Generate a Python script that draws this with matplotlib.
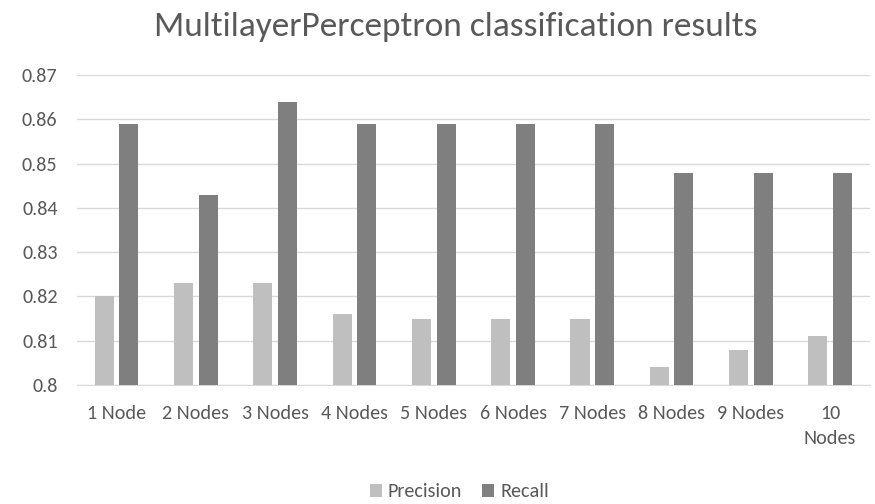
import matplotlib
matplotlib.use("Agg")
import matplotlib.pyplot as plt
from matplotlib import font_manager
import numpy as np

categories = ["1 Node", "2 Nodes", "3 Nodes", "4 Nodes", "5 Nodes", "6 Nodes",
              "7 Nodes", "8 Nodes", "9 Nodes", "10\nNodes"]
precision = [0.820, 0.823, 0.823, 0.816, 0.815, 0.815, 0.815, 0.804, 0.808, 0.811]
recall = [0.859, 0.843, 0.864, 0.859, 0.859, 0.859, 0.859, 0.848, 0.848, 0.848]
yticks = [0.8, 0.81, 0.82, 0.83, 0.84, 0.85, 0.86, 0.87]
ytick_labels = ["0.8", "0.81", "0.82", "0.83", "0.84", "0.85", "0.86", "0.87"]

names = {f.name for f in font_manager.fontManager.ttflist}
fam = "Carlito" if "Carlito" in names else "Open Sans"
plt.rcParams['font.family'] = [fam, 'DejaVu Sans']
txt = "#595959"

fig = plt.figure(figsize=(8.75, 5.04), dpi=100)
ax = fig.add_axes([0.088, 0.236, 0.906, 0.615])

x = np.arange(len(categories))
w = 0.24
gap = 0.07
ax.bar(x - (w + gap) / 2, precision, width=w, color="#BFBFBF", label="Precision", zorder=3)
ax.bar(x + (w + gap) / 2, recall, width=w, color="#7F7F7F", label="Recall", zorder=3)

ax.set_ylim(0.8, 0.87)
ax.set_xlim(-0.5, len(categories) - 0.5)
ax.set_yticks(yticks)
ax.set_yticklabels(ytick_labels)
ax.set_xticks(x)
ax.set_xticklabels(categories, linespacing=1.6)
ax.grid(axis="y", color="#D9D9D9", linewidth=1, zorder=0)
for s in ["top", "right", "left"]:
    ax.spines[s].set_visible(False)
ax.spines["bottom"].set_color("#D9D9D9")
ax.tick_params(axis="both", length=0, colors=txt, labelsize=14.5)
ax.tick_params(axis="x", pad=14)
ax.tick_params(axis="y", pad=14)

fig.text(0.5206, 1 - 36 / 504, "MultilayerPerceptron classification results", ha="center",
         va="baseline", fontsize=25.5, color=txt)

fig.legend(loc="center", bbox_to_anchor=(0.525, 0.024), ncol=2, frameon=False,
           fontsize=14.5, labelcolor=txt, handlelength=0.6, handleheight=0.6,
           handletextpad=0.3, columnspacing=1.0)

fig.savefig("out.png", dpi=100)
